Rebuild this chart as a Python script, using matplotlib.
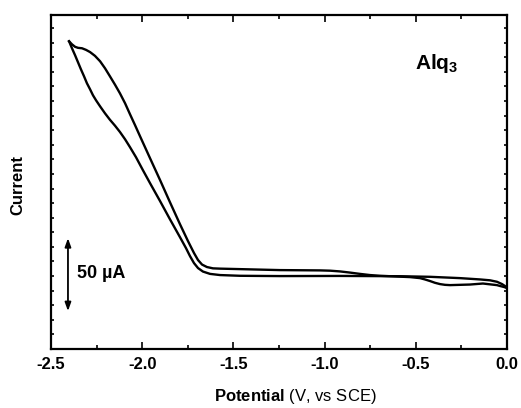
import matplotlib
matplotlib.use('Agg')
import matplotlib.pyplot as plt
from matplotlib.ticker import MultipleLocator

plt.rcParams['font.family'] = ['Liberation Sans', 'DejaVu Sans']
plt.rcParams['mathtext.fontset'] = 'custom'
plt.rcParams['mathtext.rm'] = 'Liberation Sans'
plt.rcParams['mathtext.bf'] = 'Liberation Sans:bold'

# forward scan, 0 V -> -2.4 V (potential in V, current in uA, arbitrary offset)
fwd_v = [0.000, -0.011, -0.027, -0.055, -0.093, -0.148, -0.258, -0.422, -0.587,
         -0.751, -0.916, -1.245, -1.464, -1.573, -1.628, -1.667, -1.694, -1.716,
         -1.738, -1.760, -1.793, -1.848, -1.902, -1.957, -1.996, -2.034, -2.067,
         -2.094, -2.122, -2.149, -2.177, -2.204, -2.231, -2.253, -2.270, -2.286,
         -2.303, -2.319, -2.336, -2.352, -2.368, -2.385, -2.401]
fwd_i = [41.8, 43.2, 44.5, 46.1, 47.1, 47.7, 48.6, 49.5, 49.9,
         50.0, 50.1, 50.0, 50.2, 50.7, 51.5, 53.1, 55.5, 58.9,
         63.7, 69.2, 76.7, 89.0, 101.4, 113.7, 122.6, 131.5, 138.4,
         143.8, 148.8, 153.1, 157.2, 161.6, 166.4, 170.5, 174.0, 178.1,
         182.2, 187.0, 191.8, 196.6, 201.4, 206.2, 211.0]

# reverse scan, -2.4 V -> 0 V
rev_v = [-2.401, -2.385, -2.368, -2.352, -2.330, -2.308, -2.286, -2.259, -2.231,
         -2.204, -2.177, -2.149, -2.122, -2.094, -2.067, -2.039, -2.012, -1.957,
         -1.902, -1.848, -1.793, -1.749, -1.716, -1.694, -1.672, -1.645, -1.612,
         -1.573, -1.245, -1.025, -0.970, -0.916, -0.861, -0.806, -0.751, -0.696,
         -0.641, -0.532, -0.477, -0.450, -0.422, -0.395, -0.367, -0.340, -0.312,
         -0.203, -0.132, -0.055, -0.038, -0.016, 0.000]
rev_i = [211.0, 208.9, 207.2, 206.5, 206.2, 205.1, 203.6, 201.0, 197.3,
         192.5, 187.0, 181.2, 175.3, 168.5, 161.0, 153.4, 145.9, 130.8,
         115.8, 100.7, 85.6, 74.0, 65.8, 61.0, 57.9, 56.2, 55.3,
         55.1, 54.1, 53.9, 53.7, 53.2, 52.4, 51.5, 50.7, 50.2,
         49.9, 49.3, 48.6, 47.7, 46.6, 45.4, 44.5, 44.0, 43.8,
         44.2, 44.9, 43.8, 43.2, 42.5, 41.8]

scale_v = -2.407
scale_i = [26.0, 76.0]   # 50 uA bar

fig = plt.figure(figsize=(5.21, 4.08), dpi=100)
ax = fig.add_axes([0.0979, 0.1446, 0.8752, 0.8186])

ax.plot(fwd_v, fwd_i, color='black', lw=1.7)
ax.plot(rev_v, rev_i, color='black', lw=1.7)

ax.annotate('', xy=(scale_v, scale_i[1]), xytext=(scale_v, scale_i[0]),
            arrowprops=dict(arrowstyle='<|-|>,head_length=0.5,head_width=0.18',
                            color='black', lw=1.3, shrinkA=0, shrinkB=0))
ax.text(-2.36, 51.5, '50 µA', fontsize=13, fontweight='bold', va='center', ha='left')
ax.text(-0.505, 196, r'$\mathbf{Alq_3}$', fontsize=15, va='center', ha='left')

ax.set_xlim(-2.5, 0.0)
ax.set_ylim(0, 229)
ax.xaxis.set_minor_locator(MultipleLocator(0.25))
ax.yaxis.set_major_locator(MultipleLocator(10))
ax.set_xticks([-2.5, -2.0, -1.5, -1.0, -0.5, 0.0])
ax.set_xticklabels(['-2.5', '-2.0', '-1.5', '-1.0', '-0.5', '0.0'])
ax.set_yticklabels([])

ax.tick_params(axis='both', which='both', direction='in', top=True, right=True, width=1.2)
ax.tick_params(axis='x', which='major', length=5, labelsize=12, pad=6)
ax.tick_params(axis='x', which='minor', length=3)
ax.tick_params(axis='y', which='major', length=2.5)
for lab in ax.get_xticklabels():
    lab.set_fontweight('bold')
for sp in ax.spines.values():
    sp.set_linewidth(1.6)

fig.text(295 / 521, 12 / 408, r'$\mathbf{Potential}$ (V, vs SCE)', fontsize=12,
         ha='center', va='center')
fig.text(18 / 521, 223 / 408, 'Current', fontsize=12, fontweight='bold',
         rotation=90, ha='center', va='center')

fig.savefig('out.png', dpi=100)
